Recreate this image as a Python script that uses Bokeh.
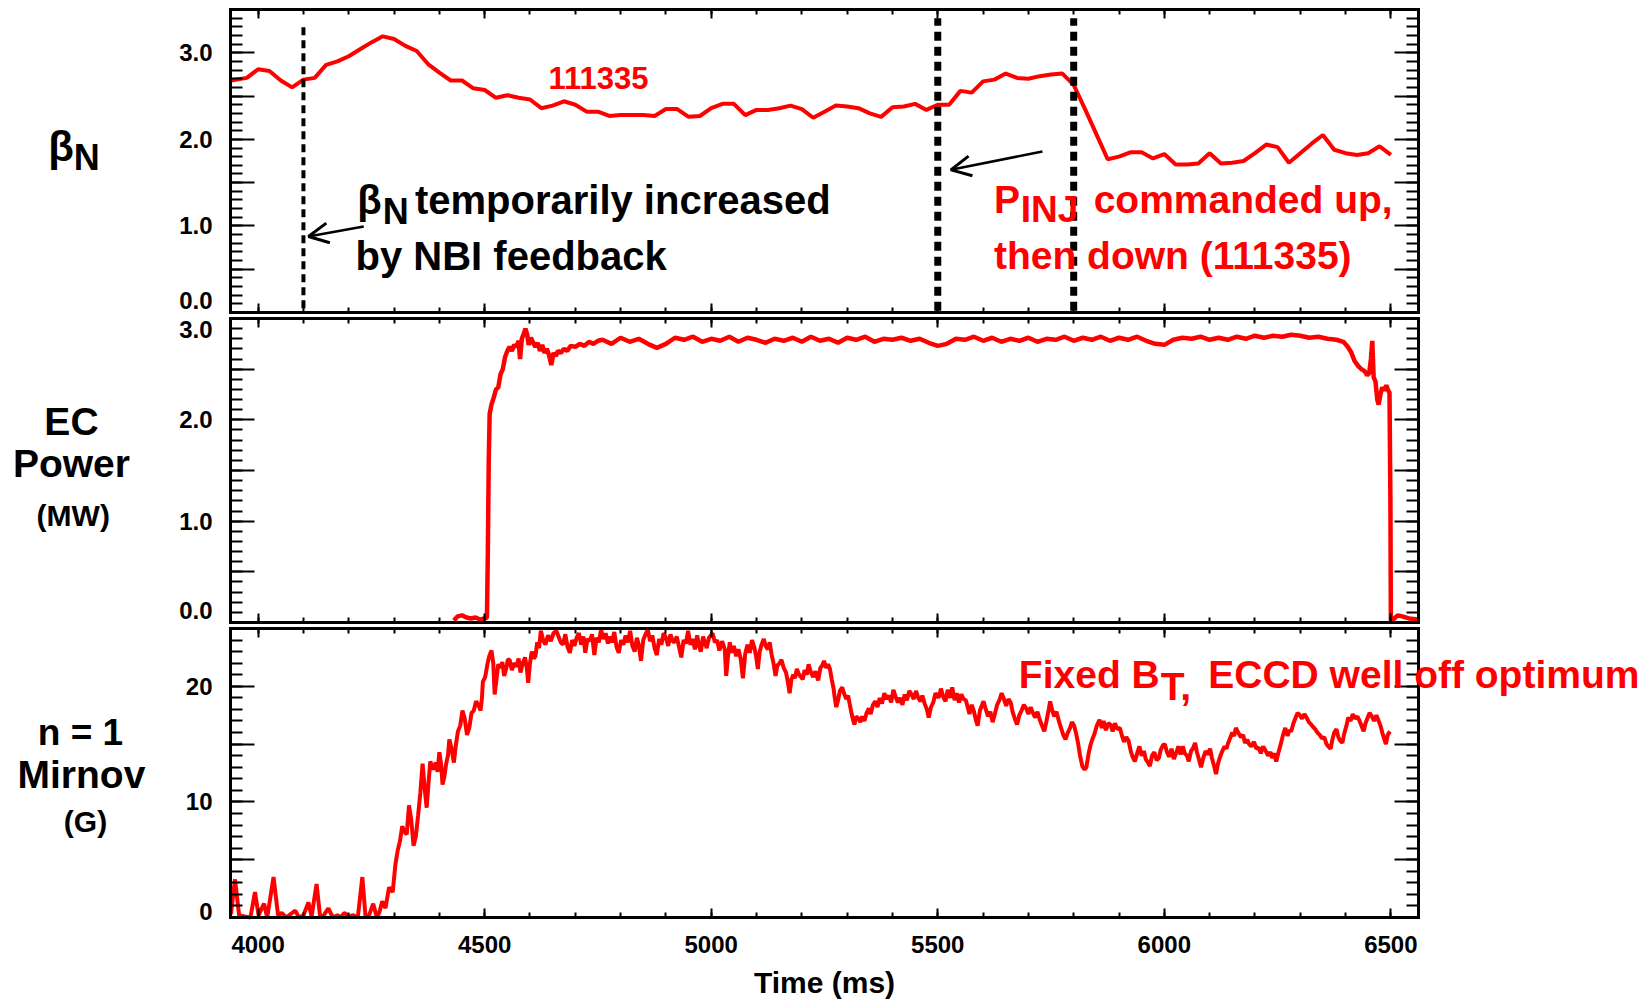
from bokeh.plotting import figure
from bokeh.models import (Range1d, LinearAxis, FixedTicker, CustomJSTickFormatter,
                          Label, Arrow, OpenHead)
from bokeh.layouts import column
from bokeh.embed import file_html
from bokeh.resources import INLINE

RED = "#ff0000"
FONT = "Liberation Sans"

# data window of every panel (ms) and the page-wide x range around it
X_START, X_END = 3939, 6561
FX0, FX1 = 3431.4, 7062.0

# ---------------- data ----------------
beta_t = [3940, 3975, 4000, 4025, 4050, 4075, 4100, 4125, 4150, 4175, 4200, 4225, 4250, 4275,
          4300, 4325, 4350, 4375, 4400, 4425, 4450, 4475, 4500, 4525, 4550, 4575, 4600, 4625,
          4650, 4675, 4700, 4725, 4750, 4775, 4800, 4825, 4850, 4875, 4900, 4925, 4950, 4975,
          5000, 5025, 5050, 5075, 5100, 5125, 5150, 5175, 5200, 5225, 5250, 5275, 5300, 5325,
          5350, 5375, 5400, 5425, 5450, 5475, 5500, 5525, 5550, 5575, 5600, 5625, 5650, 5675,
          5700, 5725, 5750, 5775, 5800, 5825, 5850, 5875, 5900, 5925, 5950, 5975, 6000, 6025,
          6050, 6075, 6100, 6125, 6150, 6175, 6200, 6225, 6250, 6275, 6300, 6325, 6350, 6375,
          6400, 6425, 6450, 6475, 6500]
beta_v = [2.68, 2.71, 2.81, 2.79, 2.68, 2.60, 2.69, 2.71, 2.86, 2.90, 2.96, 3.04, 3.12, 3.19,
          3.16, 3.08, 3.02, 2.87, 2.77, 2.68, 2.68, 2.59, 2.57, 2.48, 2.51, 2.48, 2.46, 2.36,
          2.39, 2.44, 2.40, 2.32, 2.32, 2.27, 2.28, 2.28, 2.28, 2.27, 2.35, 2.35, 2.26, 2.27,
          2.36, 2.41, 2.41, 2.28, 2.34, 2.34, 2.36, 2.39, 2.35, 2.25, 2.32, 2.39, 2.38, 2.36,
          2.30, 2.26, 2.37, 2.38, 2.41, 2.34, 2.40, 2.40, 2.56, 2.54, 2.67, 2.69, 2.76, 2.71,
          2.70, 2.73, 2.75, 2.76, 2.63, 2.35, 2.06, 1.77, 1.80, 1.85, 1.85, 1.78, 1.83, 1.71,
          1.71, 1.72, 1.84, 1.72, 1.73, 1.75, 1.84, 1.94, 1.91, 1.73, 1.84, 1.95, 2.05, 1.88,
          1.84, 1.82, 1.84, 1.92, 1.82]

ec_t = [4432, 4440, 4450, 4460, 4470, 4480, 4490, 4500, 4505, 4507, 4509, 4511, 4515, 4520,
        4525, 4530, 4535, 4540, 4545, 4550, 4555, 4560, 4565, 4570, 4575, 4578, 4582, 4587,
        4590, 4594, 4597, 4602, 4607, 4612, 4617, 4622, 4627, 4632, 4637, 4642, 4647, 4652,
        4657, 4662, 4668, 4675, 4682, 4690, 4700, 4710, 4720, 4730, 4740, 4750,
        4760, 4780, 4800, 4820, 4840, 4860, 4880, 4900, 4920, 4940, 4960, 4980, 5000, 5020,
        5040, 5060, 5080, 5100, 5120, 5140, 5160, 5180, 5200, 5220, 5240, 5260, 5280, 5300,
        5320, 5340, 5360, 5380, 5400, 5420, 5440, 5460, 5480, 5500, 5520, 5540, 5560, 5580,
        5600, 5620, 5640, 5660, 5680, 5700, 5720, 5740, 5760, 5780, 5800, 5820, 5840, 5860,
        5880, 5900, 5920, 5940, 5960, 5980, 6000, 6020, 6040, 6060, 6080, 6100, 6120, 6140,
        6160, 6180, 6200, 6220, 6240, 6260, 6280, 6300, 6320, 6340, 6360, 6380, 6395, 6405,
        6412, 6420, 6428, 6435, 6442, 6448, 6452, 6456, 6459, 6462, 6466, 6470, 6473, 6477,
        6481, 6485, 6490, 6494, 6497, 6499, 6500, 6505, 6515, 6525, 6540, 6560]
ec_v = [0.02, 0.06, 0.07, 0.05, 0.04, 0.05, 0.03, 0.04, 0.05, 0.70, 1.60, 2.06, 2.15, 2.22,
        2.30, 2.32, 2.45, 2.50, 2.62, 2.68, 2.72, 2.68, 2.74, 2.72, 2.78, 2.60, 2.80, 2.86,
        2.90, 2.84, 2.74, 2.81, 2.76, 2.72, 2.76, 2.68, 2.74, 2.66, 2.70, 2.64, 2.54, 2.66,
        2.63, 2.68, 2.66, 2.70, 2.68, 2.73, 2.72, 2.75, 2.73, 2.77, 2.75, 2.78,
        2.79, 2.75, 2.81, 2.77, 2.80, 2.75, 2.71, 2.75, 2.81, 2.79, 2.82, 2.77, 2.80, 2.78,
        2.82, 2.77, 2.81, 2.79, 2.76, 2.80, 2.78, 2.81, 2.77, 2.82, 2.78, 2.80, 2.76, 2.81,
        2.79, 2.82, 2.77, 2.80, 2.79, 2.81, 2.78, 2.80, 2.76, 2.73, 2.75, 2.80, 2.79, 2.82,
        2.78, 2.81, 2.77, 2.80, 2.78, 2.81, 2.77, 2.80, 2.79, 2.82, 2.78, 2.81, 2.79, 2.82,
        2.78, 2.81, 2.79, 2.82, 2.78, 2.75, 2.74, 2.79, 2.81, 2.80, 2.82, 2.79, 2.81, 2.79,
        2.82, 2.80, 2.83, 2.81, 2.83, 2.82, 2.84, 2.83, 2.81, 2.82, 2.80, 2.79, 2.77, 2.72,
        2.67, 2.58, 2.53, 2.50, 2.48, 2.44, 2.46, 2.60, 2.78, 2.42, 2.38, 2.20, 2.15, 2.25,
        2.32, 2.29, 2.34, 2.29, 2.27, 1.20, 0.02, 0.03, 0.07, 0.06, 0.04, 0.03]

mir_t = [3940, 3949, 3958, 3970, 3983, 3993, 4001, 4013, 4020, 4034, 4044, 4052, 4062, 4072,
         4082, 4090, 4100, 4111, 4118, 4129, 4137, 4145, 4155, 4165, 4175, 4182, 4190, 4200,
         4210, 4220, 4230, 4237, 4245, 4254, 4262, 4268, 4274, 4281, 4289, 4297, 4303, 4308,
         4313, 4318, 4323, 4328, 4333, 4338, 4343, 4348, 4353, 4358, 4363, 4368, 4372, 4376,
         4380, 4386, 4392, 4396, 4400, 4404, 4407, 4411, 4415, 4419, 4422, 4427, 4432, 4436,
         4441, 4446, 4451, 4456, 4461, 4466, 4471, 4476, 4481, 4486, 4491, 4494, 4496, 4501,
         4506, 4510, 4515, 4519, 4522, 4526, 4530, 4535, 4539, 4543, 4548, 4551, 4555, 4560,
         4565, 4570, 4575, 4579, 4584, 4589, 4593, 4596, 4600, 4604, 4608, 4612, 4616, 4620,
         4624, 4629, 4634, 4640, 4646, 4652, 4658, 4664, 4668, 4673, 4678, 4683, 4688, 4693,
         4698, 4703, 4708, 4713, 4718, 4722, 4727, 4732, 4737, 4742, 4747, 4752, 4757, 4762,
         4767, 4772, 4776, 4781, 4786, 4791, 4796, 4801, 4806, 4811, 4816, 4821, 4826, 4831,
         4836, 4840, 4845, 4850, 4855, 4860, 4865, 4870, 4875, 4880, 4885, 4890, 4895, 4900,
         4905, 4910, 4915, 4919, 4924, 4929, 4934, 4939, 4944, 4949, 4954, 4959, 4964, 4969,
         4973, 4977, 4982, 4986, 4990, 4995, 5003, 5008, 5013, 5018, 5024, 5030, 5033, 5037,
         5041, 5046, 5050, 5055, 5060, 5065, 5070, 5075, 5080, 5085, 5090, 5095, 5099, 5103,
         5107, 5111, 5116, 5120, 5125, 5129, 5133, 5138, 5142, 5146, 5151, 5155, 5160, 5165,
         5169, 5173, 5177, 5181, 5185, 5189, 5193, 5198, 5202, 5206, 5211, 5215, 5220, 5225,
         5230, 5236, 5241, 5245, 5249, 5253, 5258, 5262, 5266, 5270, 5273, 5276, 5280, 5284,
         5289, 5293, 5298, 5302, 5306, 5310, 5313, 5316, 5320, 5325, 5329, 5333, 5338, 5343,
         5348, 5352, 5357, 5362, 5367, 5372, 5377, 5382, 5387, 5392, 5397, 5402, 5407, 5412,
         5417, 5422, 5427, 5432, 5437, 5442, 5447, 5452, 5457, 5462, 5466, 5471, 5476, 5480,
         5485, 5490, 5495, 5502, 5507, 5512, 5517, 5522, 5527, 5532, 5537, 5542, 5547, 5552,
         5557, 5562, 5566, 5570, 5575, 5580, 5584, 5588, 5593, 5597, 5601, 5606, 5611, 5616,
         5621, 5626, 5631, 5636, 5641, 5646, 5651, 5656, 5661, 5665, 5670, 5675, 5680, 5685,
         5690, 5695, 5700, 5705, 5710, 5715, 5720, 5725, 5730, 5735, 5740, 5744, 5748, 5752,
         5757, 5762, 5768, 5772, 5777, 5782, 5787, 5792, 5796, 5801, 5806, 5810, 5814, 5819,
         5824, 5828, 5833, 5837, 5841, 5846, 5851, 5857, 5862, 5866, 5871, 5876, 5881, 5886,
         5891, 5896, 5902, 5906, 5911, 5916, 5921, 5926, 5930, 5935, 5940, 5945, 5950, 5955,
         5959, 5964, 5968, 5973, 5978, 5983, 5988, 5992, 5997, 6001, 6006, 6011, 6016, 6021,
         6026, 6031, 6036, 6041, 6045, 6050, 6054, 6059, 6064, 6068, 6072, 6077, 6081, 6086,
         6091, 6096, 6101, 6105, 6110, 6114, 6119, 6124, 6128, 6133, 6137, 6141, 6146, 6150,
         6154, 6158, 6163, 6169, 6174, 6178, 6183, 6187, 6192, 6198, 6203, 6208, 6213, 6218,
         6224, 6229, 6234, 6238, 6243, 6247, 6252, 6257, 6262, 6267, 6272, 6276, 6280, 6285,
         6290, 6294, 6299, 6304, 6309, 6314, 6319, 6324, 6328, 6333, 6338, 6343, 6348, 6353,
         6358, 6362, 6367, 6371, 6375, 6380, 6384, 6388, 6393, 6397, 6402, 6406, 6411, 6416,
         6421, 6426, 6431, 6436, 6440, 6444, 6449, 6453, 6458, 6463, 6468, 6472, 6477, 6481,
         6485, 6489, 6493, 6498]
mir_v = [0.3, 3.3, 0.2, 0.1, 0.0, 2.2, 0.2, 1.2, 0.0, 3.5, 0.2, 0.4, 0.0, 0.3,
         0.6, 0.0, 0.2, 1.3, 0.1, 2.9, 0.0, 0.2, 0.8, 0.0, 0.2, 0.0, 0.4, 0.1,
         0.2, 0.0, 3.5, 0.1, 0.2, 1.2, 0.0, 0.5, 1.4, 0.8, 2.6, 2.2, 4.6, 5.8,
         6.6, 7.9, 7.4, 7.2, 9.7, 8.4, 6.2, 7.0, 8.8, 10.8, 13.3, 11.0, 9.5, 11.6,
         13.5, 12.8, 13.4, 12.6, 14.3, 13.2, 11.5, 12.2, 13.3, 14.0, 15.4, 14.6, 13.4, 14.8,
         16.1, 16.6, 17.9, 17.2, 15.8, 16.4, 17.7, 17.9, 18.7, 18.4, 17.9, 19.0, 20.4, 20.8,
         21.9, 22.6, 23.1, 22.0, 19.3, 20.6, 21.9, 21.6, 22.1, 20.9, 21.6, 22.3, 22.3, 21.4,
         22.0, 21.7, 22.4, 21.2, 22.0, 22.5, 21.6, 20.3, 22.0, 23.0, 22.4, 22.6, 23.8, 23.3,
         24.8, 24.0, 23.6, 24.4, 23.9, 24.6, 24.8, 24.2, 23.8, 23.6, 24.5, 23.4, 22.9, 24.0,
         23.5, 24.2, 24.6, 23.6, 24.3, 22.9, 24.1, 23.9, 24.5, 22.7, 24.2, 23.8, 24.9, 24.1,
         24.6, 23.7, 24.3, 23.8, 24.7, 23.4, 22.9, 24.0, 23.6, 24.4, 23.8, 24.8, 23.5, 23.0,
         24.2, 23.6, 22.2, 24.0, 24.5, 24.9, 23.9, 24.4, 23.3, 22.7, 24.1, 23.6, 24.6, 24.2,
         23.5, 24.5, 23.9, 23.8, 24.3, 23.4, 22.5, 24.0, 23.7, 24.8, 23.6, 24.1, 23.2, 24.4,
         23.5, 23.0, 24.3, 23.8, 23.3, 24.2, 24.6, 23.8, 24.0, 23.1, 23.9, 23.2, 20.9, 22.6,
         23.8, 22.9, 23.5, 22.6, 23.2, 22.4, 20.7, 22.8, 23.6, 22.9, 24.0, 23.4, 22.6, 21.5,
         23.0, 23.6, 24.1, 23.5, 23.2, 23.8, 22.8, 21.9, 20.9, 21.8, 22.0, 22.3, 21.6, 21.2,
         20.4, 19.4, 20.6, 21.0, 20.7, 21.5, 21.1, 20.8, 20.6, 21.4, 21.0, 21.9, 21.2, 20.8,
         21.3, 20.5, 21.6, 21.8, 22.2, 21.6, 21.9, 21.5, 20.6, 19.8, 18.9, 18.2, 18.8, 19.6,
         19.9, 19.4, 18.9, 19.2, 18.4, 17.6, 17.1, 16.7, 17.4, 17.2, 16.9, 17.4, 17.0, 17.7,
         18.1, 17.6, 18.4, 18.7, 18.2, 19.0, 18.5, 19.4, 18.9, 19.2, 18.6, 19.7, 19.1, 18.6,
         19.0, 18.4, 19.3, 18.8, 19.6, 19.3, 18.9, 19.6, 19.0, 18.7, 19.2, 18.5, 18.0, 17.3,
         18.2, 18.6, 19.4, 19.0, 19.8, 19.1, 18.7, 19.7, 19.0, 19.9, 18.8, 19.4, 18.6, 19.3,
         18.9, 18.8, 18.2, 17.6, 18.4, 17.8, 17.1, 16.6, 17.9, 18.3, 18.7, 18.0, 17.4, 17.8,
         16.9, 17.6, 18.4, 18.8, 19.4, 18.9, 18.3, 18.9, 18.6, 17.8, 17.2, 16.7, 17.5, 17.9,
         18.4, 18.1, 17.6, 18.2, 17.7, 17.3, 17.8, 17.1, 16.6, 16.1, 17.0, 17.8, 18.7, 18.0,
         17.4, 17.8, 16.9, 16.4, 15.8, 15.4, 16.0, 16.4, 16.9, 16.6, 15.8, 15.0, 14.0, 13.1,
         12.8, 13.0, 14.2, 14.9, 15.4, 15.9, 16.6, 17.1, 16.4, 17.0, 16.2, 16.8, 16.7, 16.1,
         16.8, 16.3, 16.4, 15.8, 15.2, 15.6, 15.3, 14.4, 13.9, 13.5, 14.2, 14.8, 14.0, 14.4,
         13.7, 13.4, 13.1, 14.0, 14.3, 13.6, 13.8, 14.5, 14.9, 15.0, 14.3, 13.9, 14.6, 13.7,
         14.2, 14.8, 14.1, 14.8, 14.2, 14.0, 13.5, 14.4, 14.7, 15.1, 14.3, 13.6, 13.0, 13.8,
         14.4, 14.1, 14.6, 13.8, 13.1, 12.4, 13.4, 14.0, 14.4, 14.8, 14.6, 15.1, 15.6, 16.0,
         15.7, 16.4, 16.0, 15.6, 15.8, 15.1, 15.4, 15.0, 14.8, 15.2, 14.6, 14.7, 14.2, 14.8,
         14.4, 14.0, 14.3, 13.8, 14.2, 13.5, 14.3, 15.0, 15.8, 16.4, 15.7, 16.2, 16.1, 16.8,
         17.3, 17.7, 17.5, 17.2, 17.6, 17.3, 16.9, 16.7, 16.5, 16.3, 16.0, 15.8, 15.5, 15.6,
         15.0, 14.8, 14.6, 15.4, 16.0, 16.3, 15.6, 15.3, 15.1, 15.9, 16.6, 17.3, 17.0, 17.6,
         17.2, 17.4, 17.0, 16.5, 16.1, 16.8, 17.3, 17.7, 17.4, 17.0, 17.5, 17.1, 16.6, 16.0,
         15.5, 15.0, 15.8, 16.1]

marker_thin_t = [4100]
marker_thick_t = [5500, 5800]

x_ticks = [4000, 4500, 5000, 5500, 6000, 6500]
x_tick_labels = ["4000", "4500", "5000", "5500", "6000", "6500"]
x_minor = [t for t in range(4000, 6501, 100)]

# y tick marks per panel, and where their labels are written (edge labels nudged inward)
beta_ticks = [0.0, 0.5, 1.0, 1.5, 2.0, 2.5, 3.0]
beta_label_pos = [0.139, 1.0, 2.0, 3.0]
beta_labels = ["0.0", "1.0", "2.0", "3.0"]
ec_ticks = [0.0, 0.5, 1.0, 1.5, 2.0, 2.5, 3.0]
ec_label_pos = [0.118, 1.0, 2.0, 2.892]
ec_labels = ["0.0", "1.0", "2.0", "3.0"]
mir_ticks = [0, 5, 10, 15, 20, 25]
mir_label_pos = [0.52, 10, 20]
mir_labels = ["0", "10", "20"]

LABEL_JS = ("const i = tk.findIndex(t => Math.abs(t - tick) < 1e-6);"
            "return i >= 0 ? lb[i] : '';")


def tick_axis(loc, bounds, ticks, minor, tin, tmin):
    return LinearAxis(fixed_location=loc, bounds=bounds,
                      ticker=FixedTicker(ticks=ticks, minor_ticks=minor),
                      formatter=CustomJSTickFormatter(code="return '';"),
                      major_tick_in=tin, major_tick_out=0, minor_tick_in=tmin, minor_tick_out=0,
                      major_tick_line_width=2, minor_tick_line_width=2,
                      axis_line_width=3, axis_line_cap="square",
                      major_label_text_font_size="0px", major_label_standoff=0)


def make_panel(height, y0, y1, ytop, yticks, yminor, lpos, ltext, show_x):
    p = figure(width=1645, height=height, x_range=Range1d(FX0, FX1),
               y_range=Range1d(y0, y1), output_backend="svg", toolbar_location=None,
               x_axis_location=None, y_axis_location=None,
               min_border_left=0, min_border_right=0, min_border_top=0, min_border_bottom=0,
               background_fill_color="white", border_fill_color="white",
               outline_line_color=None)
    p.grid.visible = False
    p.add_layout(tick_axis(X_START, (0, ytop), yticks, yminor, 24, 12), "left")
    p.add_layout(tick_axis(X_END, (0, ytop), yticks, yminor, 24, 12), "right")
    p.add_layout(tick_axis(ytop, (X_START, X_END), x_ticks, x_minor, 9, 5), "above")
    p.add_layout(tick_axis(0, (X_START, X_END), x_ticks, x_minor, 9, 5), "below")
    labels = LinearAxis(fixed_location=X_START, bounds=(0, ytop),
                        ticker=FixedTicker(ticks=lpos, minor_ticks=[]),
                        formatter=CustomJSTickFormatter(args=dict(tk=lpos, lb=ltext),
                                                        code=LABEL_JS),
                        axis_line_color=None, major_tick_line_color=None,
                        minor_tick_line_color=None, major_tick_in=0, major_tick_out=0,
                        minor_tick_in=0, minor_tick_out=0,
                        major_label_standoff=18, major_label_text_font=FONT,
                        major_label_text_font_style="bold", major_label_text_font_size="24px",
                        major_label_text_color="black")
    p.add_layout(labels, "left")
    if show_x:
        xl = LinearAxis(fixed_location=0, bounds=(X_START, X_END),
                        ticker=FixedTicker(ticks=x_ticks, minor_ticks=[]),
                        formatter=CustomJSTickFormatter(args=dict(tk=x_ticks, lb=x_tick_labels),
                                                        code=LABEL_JS),
                        axis_line_color=None, major_tick_line_color=None,
                        major_tick_in=0, major_tick_out=0,
                        major_label_standoff=18, major_label_text_font=FONT,
                        major_label_text_font_style="bold", major_label_text_font_size="24px",
                        major_label_text_color="black",
                        axis_label="Time (ms)", axis_label_text_font=FONT,
                        axis_label_text_font_style="bold", axis_label_text_font_size="30px",
                        axis_label_standoff=10, axis_label_text_color="black")
        p.add_layout(xl, "below")
    return p


def txt(p, x, y, text, size, color="black", align="left"):
    p.add_layout(Label(x=x, y=y, text=text, text_font=FONT, text_font_size=f"{size}px",
                       text_font_style="bold", text_color=color, text_align=align,
                       text_baseline="middle"))


minor_01 = [round(0.1 * i, 1) for i in range(0, 36)]
minor_1 = [i for i in range(0, 26)]

# ---------------- top panel: beta_N ----------------
p1 = make_panel(315, -0.03465, 3.60396, 3.5, beta_ticks, minor_01, beta_label_pos,
                beta_labels, False)
p1.line(beta_t, beta_v, line_color=RED, line_width=4)
p1.segment(x0=marker_thin_t, y0=[0.05] * len(marker_thin_t), x1=marker_thin_t,
           y1=[3.3] * len(marker_thin_t), line_color="black", line_width=4, line_dash="8 5")
p1.segment(x0=marker_thick_t, y0=[0.02] * len(marker_thick_t), x1=marker_thick_t,
           y1=[3.4] * len(marker_thick_t), line_color="black", line_width=7, line_dash="9 6")
p1.add_layout(Arrow(end=OpenHead(size=20, line_width=3, line_color="black"),
                    x_start=4233, y_start=0.993, x_end=4111, y_end=0.878,
                    line_width=2.5, line_color="black"))
p1.add_layout(Arrow(end=OpenHead(size=20, line_width=3, line_color="black"),
                    x_start=5731, y_start=1.86, x_end=5529, y_end=1.648,
                    line_width=2.5, line_color="black"))
txt(p1, 4751, 2.708, "111335", 31, RED, "center")
txt(p1, 4219, 1.305, "β", 40)
txt(p1, 4275, 1.172, "N", 36)
txt(p1, 4346, 1.305, "temporarily increased", 40)
txt(p1, 4215, 0.647, "by NBI feedback", 40)
txt(p1, 5624, 1.311, "P", 39, RED)
txt(p1, 5683, 1.187, "INJ", 37, RED)
txt(p1, 5844, 1.311, "commanded up,", 39, RED)
txt(p1, 5624, 0.664, "then down (111335)", 39, RED)
txt(p1, 3537, 1.92, "β", 42)
txt(p1, 3593, 1.785, "N", 36)

# ---------------- middle panel: EC power ----------------
p2 = make_panel(310, -0.0296, 3.0296, 3.0, ec_ticks, minor_01[:31], ec_label_pos,
                ec_labels, False)
p2.line(ec_t, ec_v, line_color=RED, line_width=4.5)
txt(p2, 3588, 1.979, "EC", 39, align="center")
txt(p2, 3588, 1.568, "Power", 39, align="center")
txt(p2, 3592, 1.060, "(MW)", 30, align="center")

# ---------------- bottom panel: n=1 Mirnov ----------------
p3 = make_panel(378, -7.439, 25.2595, 25, mir_ticks, minor_1, mir_label_pos,
                mir_labels, True)
p3.line(mir_t, mir_v, line_color=RED, line_width=4)
txt(p3, 3608, 16.02, "n = 1", 37, align="center")
txt(p3, 3610, 12.33, "Mirnov", 39, align="center")
txt(p3, 3619, 8.28, "(G)", 30, align="center")
txt(p3, 5679, 21.06, "Fixed B", 39, RED)
txt(p3, 5992, 19.94, "T,", 39, RED)
txt(p3, 6097, 21.06, "ECCD well off optimum", 39, RED)

layout = column(p1, p2, p3, spacing=0)
open("out.html", "w").write(file_html(layout, INLINE))
